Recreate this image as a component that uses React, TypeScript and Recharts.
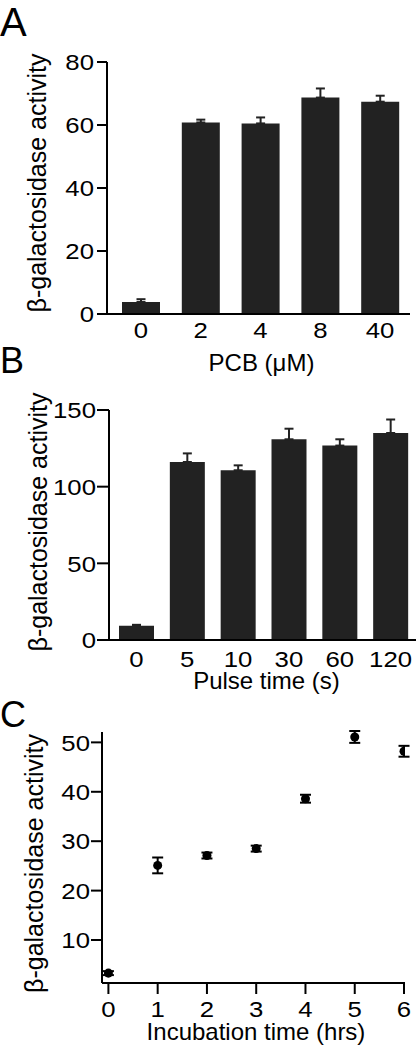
import React from 'react'
import {
  BarChart,
  Bar,
  XAxis,
  YAxis,
  ZAxis,
  ErrorBar,
  ScatterChart,
  Scatter
} from 'recharts'

const FONT = "'Liberation Sans', Arial, Helvetica, sans-serif"
const INK = '#000000'
const BAR_FILL = '#222222'
const Y_TITLE = 'β-galactosidase activity'

// panel A - PCB dose
const pcbDoses = ['0', '2', '4', '8', '40']
const pcbActivity = [3.8, 60.8, 60.5, 68.7, 67.4]
const pcbError = [0.9, 0.9, 1.9, 2.9, 1.9]
const pcbTicks = [0, 20, 40, 60, 80]

// panel B - pulse time
const pulseTimes = ['0', '5', '10', '30', '60', '120']
const pulseActivity = [9.3, 116.1, 110.7, 130.9, 126.8, 135.0]
const pulseError = [0.6, 5.6, 3.2, 6.9, 4.1, 8.8]
const pulseTicks = [0, 50, 100, 150]

// panel C - incubation time
const incubationHours = [0, 1, 2, 3, 4, 5, 6]
const incubationActivity = [3.3, 25.1, 27.1, 28.5, 38.6, 51.1, 48.2]
const incubationError = [0.4, 1.6, 0.6, 0.6, 0.8, 1.2, 1.1]
const incubationTicksY = [10, 20, 30, 40, 50]

const pcbData = pcbDoses.map((dose, i) => ({
  dose,
  value: pcbActivity[i],
  err: [0, pcbError[i]]
}))

const pulseData = pulseTimes.map((time, i) => ({
  time,
  value: pulseActivity[i],
  err: [0, pulseError[i]]
}))

const incubationData = incubationHours.map((h, i) => ({
  h,
  value: incubationActivity[i],
  err: incubationError[i]
}))

const axisStroke = { stroke: INK, strokeWidth: 2 }
const TICK_SIZE = 23
const STRETCH = 1.12 // digits in the figure are a bit wider than Arial

// bottom axis tick, slightly stretched sideways
const XTick = (props: any) => {
  const { x, y, payload } = props
  return (
    <text
      transform={`translate(${x},${y}) scale(${STRETCH},1)`}
      dy="0.71em"
      textAnchor="middle"
      fontSize={TICK_SIZE}
      fontFamily={FONT}
      fill={INK}
    >
      {payload.value}
    </text>
  )
}

const YTick = (props: any) => {
  const { x, y, payload } = props
  return (
    <text
      transform={`translate(${x},${y}) scale(${STRETCH},1)`}
      dy="0.355em"
      textAnchor="end"
      fontSize={TICK_SIZE}
      fontFamily={FONT}
      fill={INK}
    >
      {payload.value}
    </text>
  )
}

const yTitle = (baseX: number, shift: number) => (props: any) => {
  const { viewBox } = props
  const cy = viewBox.y + viewBox.height / 2 + shift
  return (
    <text
      transform={`translate(${baseX},${cy}) rotate(-90)`}
      textAnchor="middle"
      fontSize={25}
      fontFamily={FONT}
      fill={INK}
    >
      {Y_TITLE}
    </text>
  )
}

const xTitle = (text: string, dx: number, dy: number) => (props: any) => {
  const { viewBox } = props
  return (
    <text
      x={viewBox.x + viewBox.width / 2 + dx}
      y={viewBox.y + dy}
      textAnchor="middle"
      fontSize={24}
      fontFamily={FONT}
      fill={INK}
    >
      {text}
    </text>
  )
}

const PanelA = () => (
  <BarChart
    width={416}
    height={380}
    data={pcbData}
    margin={{ top: 62, right: 6, bottom: 6, left: 0 }}
  >
    <XAxis
      dataKey="dose"
      height={60}
      padding={{ left: 4, right: 0 }}
      tickLine={false}
      tickSize={0}
      tickMargin={8}
      axisLine={axisStroke}
      tick={<XTick />}
      interval={0}
      label={xTitle('PCB (μM)', 3, 57)}
    />
    <YAxis
      width={107}
      domain={[0, 80]}
      ticks={pcbTicks}
      tickSize={10}
      tickMargin={3}
      axisLine={axisStroke}
      tickLine={axisStroke}
      tick={<YTick />}
      label={yTitle(46, -5)}
    />
    <Bar dataKey="value" fill={BAR_FILL} barSize={38} isAnimationActive={false}>
      <ErrorBar dataKey="err" width={4.5} stroke={BAR_FILL} strokeWidth={2} direction="y" />
    </Bar>
  </BarChart>
)

const PanelB = () => (
  <BarChart
    width={416}
    height={380}
    data={pulseData}
    margin={{ top: 70, right: 0, bottom: 20, left: 0 }}
  >
    <XAxis
      dataKey="time"
      height={60}
      padding={{ left: 2, right: 0 }}
      tickLine={false}
      tickSize={0}
      tickMargin={11}
      axisLine={axisStroke}
      tick={<XTick />}
      interval={0}
      label={xTitle('Pulse time (s)', 4, 49)}
    />
    <YAxis
      width={109}
      domain={[0, 150]}
      ticks={pulseTicks}
      tickSize={12}
      tickMargin={1}
      axisLine={axisStroke}
      tickLine={axisStroke}
      tick={<YTick />}
      label={yTitle(47, -3)}
    />
    <Bar dataKey="value" fill={BAR_FILL} barSize={35} isAnimationActive={false}>
      <ErrorBar dataKey="err" width={4.5} stroke={BAR_FILL} strokeWidth={2} direction="y" />
    </Bar>
  </BarChart>
)

const PanelC = () => (
  <ScatterChart
    width={416}
    height={360}
    margin={{ top: 42, right: 11, bottom: 0, left: 0 }}
  >
    <XAxis
      type="number"
      dataKey="h"
      domain={[-0.13, 6.02]}
      ticks={incubationHours}
      allowDataOverflow
      height={67}
      tickSize={11}
      tickMargin={7}
      axisLine={axisStroke}
      tickLine={axisStroke}
      tick={<XTick />}
      interval={0}
      label={xTitle('Incubation time (hrs)', 2.5, 57)}
    />
    <YAxis
      type="number"
      dataKey="value"
      width={102}
      domain={[1.3, 52.1]}
      ticks={incubationTicksY}
      allowDataOverflow
      tickSize={11}
      tickMargin={1}
      axisLine={axisStroke}
      tickLine={axisStroke}
      tick={<YTick />}
      label={yTitle(43, 6)}
    />
    <ZAxis range={[80, 80]} />
    <Scatter data={incubationData} fill={INK} isAnimationActive={false}>
      <ErrorBar dataKey="err" direction="y" width={5.5} stroke={INK} strokeWidth={2} />
    </Scatter>
  </ScatterChart>
)

const box = (top: number, height: number): React.CSSProperties => ({
  position: 'absolute',
  left: 0,
  top,
  width: 416,
  height
})

export default function App() {
  return (
    <div
      style={{
        position: 'absolute',
        left: 0,
        top: 0,
        width: 416,
        height: 1050,
        background: '#fff',
        overflow: 'hidden'
      }}
    >
      <div style={box(0, 380)}>
        <PanelA />
      </div>
      <div style={box(340, 380)}>
        <PanelB />
      </div>
      <div style={box(690, 360)}>
        <PanelC />
      </div>
      <svg
        width={416}
        height={1050}
        style={{ position: 'absolute', left: 0, top: 0, pointerEvents: 'none' }}
      >
        <text x={0} y={36} fontSize={40} fontFamily={FONT} fill={INK}>A</text>
        <text x={0} y={373} fontSize={36} fontFamily={FONT} fill={INK}>B</text>
        <text x={0} y={727} fontSize={36} fontFamily={FONT} fill={INK}>C</text>
      </svg>
    </div>
  )
}
